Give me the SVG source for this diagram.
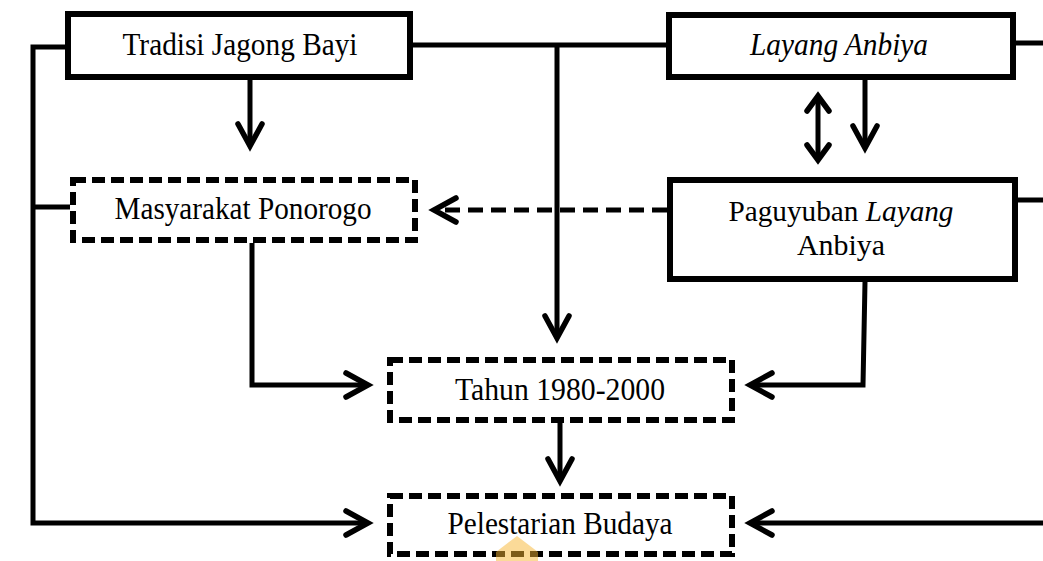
<svg xmlns="http://www.w3.org/2000/svg" width="1043" height="561" viewBox="0 0 1043 561">
<style>
  .box{fill:#fff;stroke:#000;stroke-width:6}
  .dbox{fill:#fff;stroke:#000;stroke-width:6;stroke-dasharray:13 6}
  .t{font-family:"Liberation Serif","Times New Roman",serif;font-size:32px;fill:#000;text-anchor:middle}
  .s{font-size:30px}
  .i{font-style:italic}
  .ln{fill:none;stroke:#000;stroke-width:5}
  .dl{fill:none;stroke:#000;stroke-width:5;stroke-dasharray:15 8}
</style>
<defs>
  <marker id="ah" markerUnits="userSpaceOnUse" viewBox="-30 -20 40 40" refX="0" refY="0" markerWidth="40" markerHeight="40" orient="auto" overflow="visible">
    <path d="M-22,-12 L0,0 L-22,12" fill="none" stroke="#000" stroke-width="5.5" stroke-linecap="round" stroke-linejoin="miter"/>
  </marker>
  <marker id="ah2" markerUnits="userSpaceOnUse" viewBox="-30 -20 40 40" refX="0" refY="0" markerWidth="40" markerHeight="40" orient="auto-start-reverse" overflow="visible">
    <path d="M-15,-11 L0,0 L-15,11" fill="none" stroke="#000" stroke-width="5.5" stroke-linecap="round" stroke-linejoin="miter"/>
  </marker>
</defs>
<g id="connectors">
  <path class="ln" d="M65,47 H33 V523 H368" marker-end="url(#ah)"/>
  <path class="ln" d="M33,207 H70"/>
  <path class="ln" d="M413,45 H666"/>
  <path class="ln" d="M557,45 V338" marker-end="url(#ah)"/>
  <path class="ln" d="M250,80 V146" marker-end="url(#ah)"/>
  <path class="ln" d="M865,80 V148" marker-end="url(#ah)"/>
  <path class="ln" d="M818,96 V160" marker-start="url(#ah2)" marker-end="url(#ah2)"/>
  <path class="ln" d="M1016,43 H1043"/>
  <path class="ln" d="M1018,200 H1043"/>
  <path class="dl" d="M667,210 H434" marker-end="url(#ah)"/>
  <path class="ln" d="M252,243 V385 H368" marker-end="url(#ah)"/>
  <path class="ln" d="M865,282 L863,385 H750" marker-end="url(#ah)"/>
  <path class="ln" d="M560,423 V481" marker-end="url(#ah)"/>
  <path class="ln" d="M1043,523 H750" marker-end="url(#ah)"/>
</g>
<g id="n-tradisi">
  <rect class="box" x="68" y="14" width="342" height="63"/>
  <text class="t" x="240" y="55" textLength="235" lengthAdjust="spacingAndGlyphs">Tradisi Jagong Bayi</text>
</g>
<g id="n-layang">
  <rect class="box" x="669" y="15" width="344" height="62"/>
  <text class="t i" x="839" y="55" textLength="178" lengthAdjust="spacingAndGlyphs">Layang Anbiya</text>
</g>
<g id="n-masyarakat">
  <rect class="dbox" x="73" y="180" width="342" height="60"/>
  <text class="t" x="243" y="219" textLength="257" lengthAdjust="spacingAndGlyphs">Masyarakat Ponorogo</text>
</g>
<g id="n-paguyuban">
  <rect class="box" x="670" y="180" width="345" height="99"/>
  <text class="t s" x="841" y="221" textLength="225" lengthAdjust="spacingAndGlyphs">Paguyuban <tspan class="i">Layang</tspan></text>
  <text class="t s" x="841" y="255" textLength="88" lengthAdjust="spacingAndGlyphs">Anbiya</text>
</g>
<g id="n-tahun">
  <rect class="dbox" x="390" y="360" width="342" height="60"/>
  <text class="t" x="560" y="400" textLength="210" lengthAdjust="spacingAndGlyphs">Tahun 1980-2000</text>
</g>
<g id="n-pelestarian">
  <rect class="dbox" x="390" y="496" width="342" height="58"/>
  <text class="t" x="560" y="534" textLength="225" lengthAdjust="spacingAndGlyphs">Pelestarian Budaya</text>
</g>
<polygon points="517,536 538,552 538,561 496,561 496,552" fill="#f7b531" opacity="0.5"/>
</svg>
